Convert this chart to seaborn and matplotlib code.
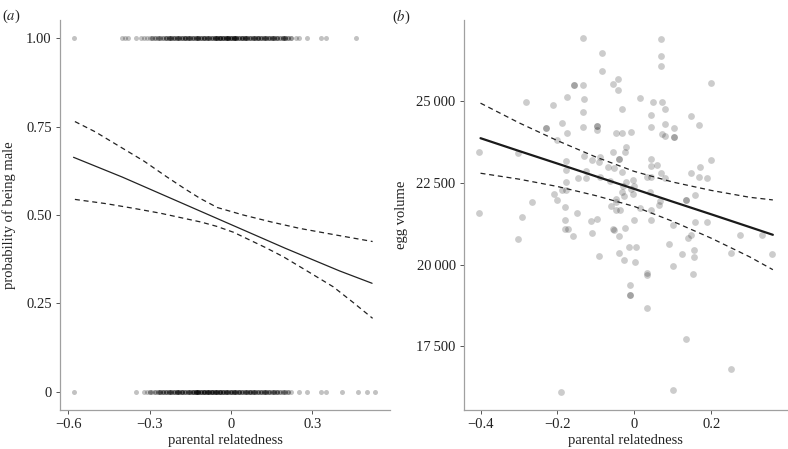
import numpy as np
import seaborn as sns
import matplotlib.pyplot as plt

sns.set_style('ticks')
plt.rcParams['font.family'] = ['Liberation Serif', 'DejaVu Serif']
plt.rcParams['mathtext.fontset'] = 'stix'

# (a) offspring sex vs parental relatedness: x positions and how many eggs sit there
male_x = [
    -0.58, -0.40, -0.39, -0.38, -0.35, -0.33, -0.32, -0.31, -0.30, -0.29,
    -0.28, -0.27, -0.26, -0.25, -0.24, -0.23, -0.22, -0.21, -0.20, -0.19,
    -0.18, -0.17, -0.16, -0.15, -0.14, -0.13, -0.12, -0.11, -0.10, -0.09,
    -0.08, -0.07, -0.06, -0.05, -0.04, -0.03, -0.02, -0.01, 0.00, 0.01,
    0.02, 0.03, 0.04, 0.05, 0.06, 0.07, 0.08, 0.09, 0.10, 0.11,
    0.12, 0.13, 0.14, 0.15, 0.16, 0.17, 0.18, 0.19, 0.20, 0.21,
    0.22, 0.24, 0.25, 0.28, 0.33, 0.35, 0.46]
male_n = [
    1, 1, 1, 1, 1, 1, 1, 1, 1, 2,
    2, 2, 2, 2, 3, 3, 3, 3, 3, 3,
    3, 4, 3, 3, 3, 3, 4, 3, 4, 3,
    3, 3, 4, 4, 5, 4, 4, 5, 4, 5,
    4, 3, 4, 4, 3, 3, 3, 3, 4, 3,
    3, 3, 3, 3, 3, 3, 2, 3, 3, 2,
    2, 1, 1, 1, 1, 1, 1]
female_x = [
    -0.58, -0.35, -0.32, -0.31, -0.30, -0.29, -0.28, -0.27, -0.26, -0.25,
    -0.24, -0.23, -0.22, -0.21, -0.20, -0.19, -0.18, -0.17, -0.16, -0.15,
    -0.14, -0.13, -0.12, -0.11, -0.10, -0.09, -0.08, -0.07, -0.06, -0.05,
    -0.04, -0.03, -0.02, -0.01, 0.00, 0.01, 0.02, 0.03, 0.04, 0.05,
    0.06, 0.07, 0.08, 0.09, 0.10, 0.11, 0.12, 0.13, 0.14, 0.15,
    0.16, 0.17, 0.18, 0.19, 0.20, 0.21, 0.22, 0.25, 0.28, 0.33,
    0.35, 0.41, 0.47, 0.50, 0.53]
female_n = [
    1, 1, 1, 1, 2, 1, 2, 2, 3, 3,
    3, 3, 3, 3, 4, 3, 4, 3, 3, 3,
    4, 5, 5, 4, 5, 4, 4, 5, 4, 4,
    5, 4, 4, 3, 4, 4, 3, 4, 3, 3,
    3, 4, 3, 3, 3, 3, 3, 3, 3, 2,
    3, 3, 2, 2, 2, 2, 1, 1, 1, 1,
    1, 1, 1, 1, 1]

# fitted probability and 95% CI
fit_a_x = [-0.58, -0.40, -0.20, 0.00, 0.20, 0.40, 0.52]
fit_a_y = [0.663, 0.607, 0.540, 0.473, 0.406, 0.342, 0.307]
upper_a_x = [-0.575, -0.50, -0.409, -0.32, -0.237, -0.17, -0.114, -0.05, 0.045,
             0.15, 0.254, 0.39, 0.522]
upper_a_y = [0.764, 0.735, 0.693, 0.652, 0.608, 0.574, 0.547, 0.521, 0.500,
             0.480, 0.462, 0.443, 0.425]
lower_a_x = [-0.575, -0.46, -0.36, -0.26, -0.176, -0.11, -0.053, 0.01, 0.070,
             0.13, 0.193, 0.28, 0.377, 0.45, 0.522]
lower_a_y = [0.544, 0.532, 0.519, 0.505, 0.491, 0.480, 0.468, 0.451, 0.429,
             0.407, 0.382, 0.342, 0.297, 0.253, 0.208]

# (b) egg volume vs parental relatedness
egg_x = [
    -0.134, 0.068, 0.068, -0.083, 0.068, -0.083, -0.043, -0.055, -0.043, -0.158,
    -0.158, -0.134, 0.200, -0.175, -0.130, 0.015, -0.282, -0.211, 0.048, 0.072,
    -0.033, 0.079, -0.133, 0.042, 0.147, -0.230, -0.230, -0.187, -0.134, -0.097,
    -0.097, -0.097, 0.044, 0.080, 0.104, 0.167, -0.175, -0.049, -0.033, -0.009,
    0.071, 0.080, 0.104, 0.104, -0.202, -0.021, -0.024, -0.055, -0.404, -0.302,
    -0.130, -0.111, -0.090, -0.091, -0.039, -0.039, 0.044, 0.059, 0.044, 0.200,
    0.171, -0.179, -0.179, -0.068, -0.053, -0.033, -0.126, -0.147, -0.126, -0.090,
    -0.063, -0.021, -0.003, 0.034, 0.044, 0.070, 0.080, 0.146, 0.168, 0.189,
    -0.179, -0.179, -0.208, -0.187, -0.202, -0.266, -0.029, -0.033, -0.026, -0.010,
    0.000, -0.003, -0.049, -0.049, 0.134, 0.134, 0.158, 0.067, 0.015, 0.043,
    0.064, -0.061, -0.049, -0.038, -0.181, -0.149, -0.404, -0.291, -0.113, -0.098,
    -0.181, 0.000, 0.043, 0.101, 0.158, 0.189, -0.181, -0.055, -0.024, -0.173,
    0.040, -0.302, -0.160, -0.111, -0.053, -0.039, 0.139, 0.147, 0.274, 0.331,
    -0.091, -0.039, -0.015, 0.005, 0.091, 0.123, 0.156, 0.156, -0.026, 0.002,
    0.101, 0.251, 0.358, 0.034, 0.034, 0.153, -0.011, -0.011, -0.011, 0.034,
    0.134, 0.251, -0.190, 0.101]
egg_y = [
    26930, 26900, 26385, 26475, 26050, 25905, 25680, 25510, 25345, 25490,
    25490, 25490, 25550, 25120, 25070, 25090, 24970, 24870, 24970, 24970,
    24745, 24745, 24645, 24555, 24540, 24165, 24165, 24310, 24205, 24235,
    24235, 24095, 24215, 24290, 24175, 24260, 24025, 24025, 24005, 24035,
    23985, 23920, 23900, 23900, 23810, 23595, 23425, 23435, 23435, 23395,
    23330, 23190, 23290, 23140, 23220, 23220, 23210, 23045, 23025, 23200,
    22975, 23170, 22895, 22965, 22945, 22835, 22845, 22640, 22640, 22660,
    22540, 22530, 22570, 22680, 22690, 22795, 22640, 22795, 22670, 22640,
    22520, 22265, 22150, 22265, 21980, 21910, 22385, 22215, 22090, 22315,
    22415, 22165, 22010, 21920, 21970, 21970, 22120, 21930, 21715, 21655,
    21805, 21795, 21655, 21675, 21745, 21575, 21565, 21460, 21340, 21390,
    21370, 21350, 21350, 21195, 21290, 21290, 21095, 21085, 21105, 21085,
    22215, 20780, 20860, 20975, 21055, 20860, 20810, 20910, 20890, 20890,
    20250, 20355, 20525, 20525, 20615, 20310, 20435, 20220, 20130, 20070,
    19955, 20365, 20310, 19745, 19690, 19720, 19375, 19070, 19070, 18685,
    17730, 16825, 16100, 16185]

fit_b_x = [-0.40, -0.30, -0.20, -0.10, 0.00, 0.10, 0.20, 0.30, 0.36]
fit_b_y = [23860, 23470, 23085, 22695, 22310, 21920, 21535, 21145, 20910]
upper_b_y = [24930, 24330, 23785, 23285, 22845, 22520, 22265, 22055, 21975]
lower_b_y = [22790, 22610, 22385, 22105, 21775, 21320, 20805, 20235, 19845]

a_xticks = [-0.6, -0.3, 0.0, 0.3]
a_xlabels = ['\u22120.6', '\u22120.3', '0', '0.3']
a_yticks = [0, 0.25, 0.5, 0.75, 1.0]
a_ylabels = ['0', '0.25', '0.50', '0.75', '1.00']
b_xticks = [-0.4, -0.2, 0.0, 0.2]
b_xlabels = ['\u22120.4', '\u22120.2', '0', '0.2']
b_yticks = [17500, 20000, 22500, 25000]
b_ylabels = ['17\u2009500', '20\u2009000', '22\u2009500', '25\u2009000']

fig = plt.figure(figsize=(7.88, 4.49), dpi=100)
ax1 = fig.add_axes([0.0761, 0.0869, 0.4188, 0.8686])
ax2 = fig.add_axes([0.5888, 0.0869, 0.411, 0.8686])

dash = (0, (4, 3))

# panel a
mx = np.repeat(male_x, male_n)
fx = np.repeat(female_x, female_n)
sns.scatterplot(x=mx, y=np.ones(len(mx)), ax=ax1, color='black', alpha=0.24, s=13, linewidth=0)
sns.scatterplot(x=fx, y=np.zeros(len(fx)), ax=ax1, color='black', alpha=0.24, s=13, linewidth=0)
sns.lineplot(x=fit_a_x, y=fit_a_y, ax=ax1, color='#222222', lw=0.9, estimator=None, sort=False)
sns.lineplot(x=upper_a_x, y=upper_a_y, ax=ax1, color='#222222', lw=0.9, linestyle=dash,
             estimator=None, sort=False)
sns.lineplot(x=lower_a_x, y=lower_a_y, ax=ax1, color='#222222', lw=0.9, linestyle=dash,
             estimator=None, sort=False)
ax1.set_xlim(-0.630, 0.586)
ax1.set_ylim(-0.051, 1.051)
ax1.set_xticks(a_xticks)
ax1.set_xticklabels(a_xlabels)
ax1.set_yticks(a_yticks)
ax1.set_yticklabels(a_ylabels)
ax1.set_xlabel('parental relatedness', fontsize=10.5, labelpad=2)
ax1.set_ylabel('probability of being male', fontsize=10.5, labelpad=7)

# panel b
sns.scatterplot(x=egg_x, y=egg_y, ax=ax2, color='black', alpha=0.2, s=24, linewidth=0)
sns.lineplot(x=fit_b_x, y=fit_b_y, ax=ax2, color='#1a1a1a', lw=1.6, estimator=None, sort=False)
sns.lineplot(x=fit_b_x, y=upper_b_y, ax=ax2, color='#222222', lw=0.9, linestyle=dash,
             estimator=None, sort=False)
sns.lineplot(x=fit_b_x, y=lower_b_y, ax=ax2, color='#222222', lw=0.9, linestyle=dash,
             estimator=None, sort=False)
ax2.set_xlim(-0.443, 0.399)
ax2.set_ylim(15560, 27470)
ax2.set_xticks(b_xticks)
ax2.set_xticklabels(b_xlabels)
ax2.set_yticks(b_yticks)
ax2.set_yticklabels(b_ylabels)
ax2.set_xlabel('parental relatedness', fontsize=10.5, labelpad=2)
ax2.set_ylabel('egg volume', fontsize=10.5, labelpad=6)

for ax in (ax1, ax2):
    sns.despine(ax=ax)
    for side in ('left', 'bottom'):
        ax.spines[side].set_color('#a0a0a0')
        ax.spines[side].set_linewidth(0.9)
    ax.tick_params(length=3, width=0.7, color='#555555', labelsize=10.5,
                   labelcolor='#222222', pad=3)
    ax.xaxis.label.set_color('#222222')
    ax.yaxis.label.set_color('#222222')

fig.text(0.003, 0.982, r'($\mathit{a}$)', fontsize=10.5, va='top', color='#222222')
fig.text(0.497, 0.982, r'($\mathit{b}$)', fontsize=10.5, va='top', color='#222222')

fig.savefig('out.png', dpi=100)
